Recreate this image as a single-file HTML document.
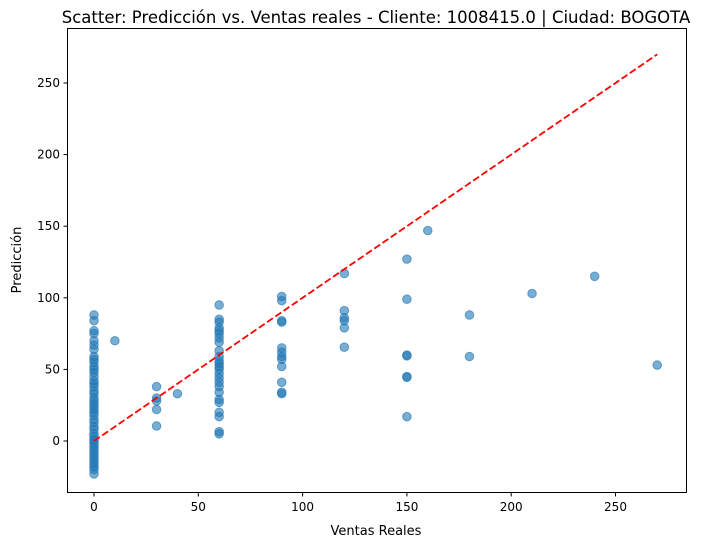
<!DOCTYPE html>
<html><head><meta charset="utf-8"><style>
body{margin:0;background:#fff;font-family:"Liberation Sans","DejaVu Sans",sans-serif}
svg text{font-family:"DejaVu Sans","Liberation Sans",sans-serif;fill:#000}
</style></head><body>
<svg id="chart" width="701" height="548" xmlns="http://www.w3.org/2000/svg">
<text x="376" y="23" font-size="16.5" text-anchor="middle">Scatter: Predicción vs. Ventas reales - Cliente: 1008415.0 | Ciudad: BOGOTA</text>
<text x="376" y="535" font-size="13" text-anchor="middle">Ventas Reales</text>
<text x="21" y="260" font-size="13" text-anchor="middle" transform="rotate(-90 21 260)">Predicción</text>
<g id="marks"></g>
<rect x="67.5" y="28.5" width="619" height="464" fill="none" stroke="#000" stroke-width="1"/>
<g id="axes"></g>
</svg>
<script>
const xActual = [0,0,0,0,0,0,0,0,0,0,0,0,0,0,0,0,0,0,0,0,0,0,0,0,0,0,0,0,0,0,0,0,0,0,0,0,0,0,0,0,0,0,0,0,0,
10,30,30,30,30,30,40,
60,60,60,60,60,60,60,60,60,60,60,60,60,60,60,60,60,60,60,60,60,60,60,60,60,
90,90,90,90,90,90,90,90,90,90,90,90,
120,120,120,120,120,120,
150,150,150,150,150,150,150,160,180,180,210,240,270];
const yPred = [88,84,77,75,70,67,64,59,57,55,52,50,48,45,42,40,38,35,33,30,28,26,24,22,20,18,15,13,10,8,5,3,1,0,-2,-4,-6,-8,-10,-12,-14,-16,-18,-20,-23,
70,38,30,28,22,10.5,33,
95,85,83,79,77,75,72,69,63,59,56,54,52,50,47,44,41,38,34,29,27,20,17,6.5,5,
101,98,84,83,65,62,59,57,52,41,34,33,
117,91,86,84,79,65.5,
127,99,59.5,60,45,44.5,17,147,88,59,103,115,53];
const xTicks = [0,50,100,150,200,250];
const yTicks = [0,50,100,150,200,250];
const refLine = [0,270];

const X = v => 94 + v*2.086;
const Y = v => 441 - v*1.432;
const NS = "http://www.w3.org/2000/svg";
const marks = document.getElementById('marks');
const axes = document.getElementById('axes');
function mk(tag, attrs, parent){const e=document.createElementNS(NS,tag);for(const k in attrs)e.setAttribute(k,attrs[k]);parent.appendChild(e);return e;}

xActual.forEach((xv,i)=>{
  const c = mk('circle',{cx:X(xv),cy:Y(yPred[i]),r:4.3,fill:'#1f77b4','fill-opacity':0.6,stroke:'#1f77b4','stroke-opacity':0.6,'stroke-width':1},marks);
  
  
});
const ln = mk('line',{x1:X(refLine[0]),y1:Y(refLine[0]),x2:X(refLine[1]),y2:Y(refLine[1]),stroke:'#ff0000','stroke-width':1.8,'stroke-dasharray':'7,3'},marks);



xTicks.forEach(t=>{
  const l = mk('line',{x1:X(t),x2:X(t),y1:492.5,y2:496.5,stroke:'#000'},axes);
  
  
  const tx = mk('text',{x:X(t),y:511,'font-size':12,'text-anchor':'middle'},axes);
  tx.textContent = t;
  
  
});
yTicks.forEach(t=>{
  const l = mk('line',{x1:63.5,x2:67.5,y1:Y(t),y2:Y(t),stroke:'#000'},axes);
  
  
  const tx = mk('text',{x:60,y:Y(t)+4,'font-size':12,'text-anchor':'end'},axes);
  tx.textContent = t;
  
  
});
</script>
</body></html>
